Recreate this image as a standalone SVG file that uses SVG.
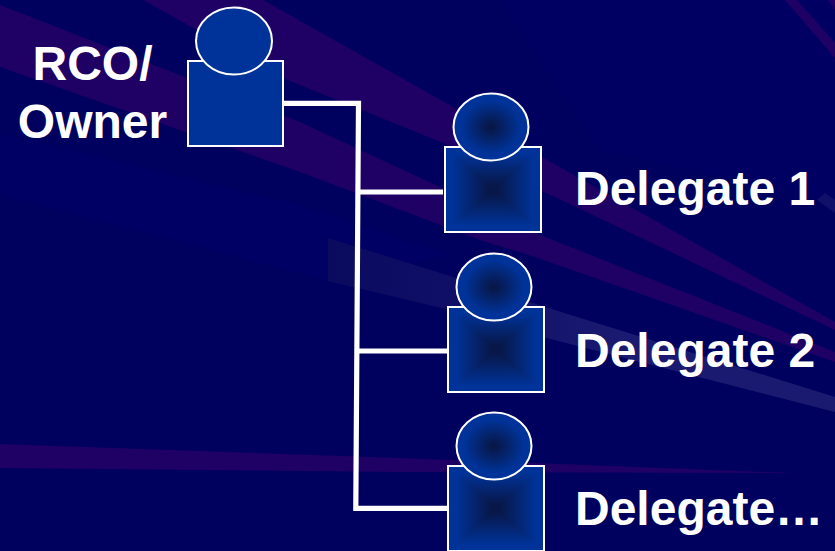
<svg xmlns="http://www.w3.org/2000/svg" width="835" height="551" viewBox="0 0 835 551">
<style>
.lbl{font-family:"Liberation Sans",Arial,sans-serif;font-weight:700;font-size:48px;fill:#fff}
.pur{fill:#1f0064}
.wire{fill:none;stroke:#fff;stroke-width:5.2;stroke-linejoin:miter}
.out{fill:none;stroke:#fff;stroke-width:2}
.tri{shape-rendering:crispEdges}
</style>
<defs>
<linearGradient id="lt" gradientUnits="userSpaceOnUse" x1="0" y1="42.5" x2="0" y2="0"><stop offset=".08" stop-color="#081748"/><stop offset=".85" stop-color="#003399"/></linearGradient>
<linearGradient id="lb" gradientUnits="userSpaceOnUse" x1="0" y1="42.5" x2="0" y2="85"><stop offset=".08" stop-color="#081748"/><stop offset=".85" stop-color="#003399"/></linearGradient>
<linearGradient id="ll" gradientUnits="userSpaceOnUse" x1="48" y1="0" x2="0" y2="0"><stop offset=".08" stop-color="#081748"/><stop offset=".85" stop-color="#003399"/></linearGradient>
<linearGradient id="lr" gradientUnits="userSpaceOnUse" x1="48" y1="0" x2="96" y2="0"><stop offset=".08" stop-color="#081748"/><stop offset=".85" stop-color="#003399"/></linearGradient>
<radialGradient id="head"><stop offset=".05" stop-color="#081748"/><stop offset=".8" stop-color="#003399"/></radialGradient>
<linearGradient id="light" gradientUnits="userSpaceOnUse" x1="328" y1="0" x2="620" y2="0"><stop offset="0" stop-color="#0a0a5e"/><stop offset=".5" stop-color="#10106a"/><stop offset="1" stop-color="#1a1a70"/></linearGradient>
<g id="body">
<polygon class="tri" fill="url(#lt)" points="0,0 96,0 48,42.5"/>
<polygon class="tri" fill="url(#lb)" points="0,85 96,85 48,42.5"/>
<polygon class="tri" fill="url(#ll)" points="0,0 0,85 48,42.5"/>
<polygon class="tri" fill="url(#lr)" points="96,0 96,85 48,42.5"/>
<rect class="out" width="96" height="85"/>
</g>
<g id="hd"><ellipse rx="37.5" ry="33.5" fill="url(#head)" stroke="#fff" stroke-width="2"/></g>
</defs>
<g id="background">
<rect width="835" height="551" fill="#00005f"/>
<polygon fill="#000063" points="500,0 835,0 835,200 600,150"/>
<polygon fill="#000064" points="0,133 300,205 450,255 328,281 0,195"/>
<polygon class="pur" points="143,0 263,0 835,322 835,330 540,190 453,147 283,78"/>
<polygon class="pur" points="0,5 300,122 440,187 535,233 835,352 835,362 535,257 480,240 300,172 0,67"/>
<polygon fill="url(#light)" points="328,238 450,276 545,307 835,397 835,412 535,335 450,310 328,281"/>
<polygon class="pur" points="0,444 400,458 793,473 400,472 0,468"/>
<polygon class="pur" points="785,0 797,0 835,43 835,58"/>
<polygon class="pur" points="828,0 835,0 835,10"/>
<polygon fill="#10106a" points="825,193 835,200 835,213 817,200"/>
</g>
<g id="connectors">
<path class="wire" d="M283 103.3H358.5L355.8 508.3H447"/>
<path class="wire" d="M358 192H443"/>
<path class="wire" d="M357 351H447"/>
</g>
<g id="owner">
<rect x="188" y="61" width="95" height="85" fill="#003399" stroke="#fff" stroke-width="2"/>
<ellipse cx="234" cy="41" rx="38" ry="33.5" fill="#003399" stroke="#fff" stroke-width="2"/>
<text class="lbl" x="92.5" y="80" text-anchor="middle">RCO/</text>
<text class="lbl" x="92.5" y="138" text-anchor="middle">Owner</text>
</g>
<g id="delegate-1">
<use href="#body" x="445" y="147"/>
<use href="#hd" x="491" y="127"/>
<text class="lbl" x="575" y="205">Delegate 1</text>
</g>
<g id="delegate-2">
<use href="#body" x="448" y="307"/>
<use href="#hd" x="494" y="287"/>
<text class="lbl" x="575" y="367">Delegate 2</text>
</g>
<g id="delegate-3">
<use href="#body" x="448" y="466"/>
<use href="#hd" x="494" y="446"/>
<text class="lbl" x="575" y="525">Delegate…</text>
</g>
</svg>
